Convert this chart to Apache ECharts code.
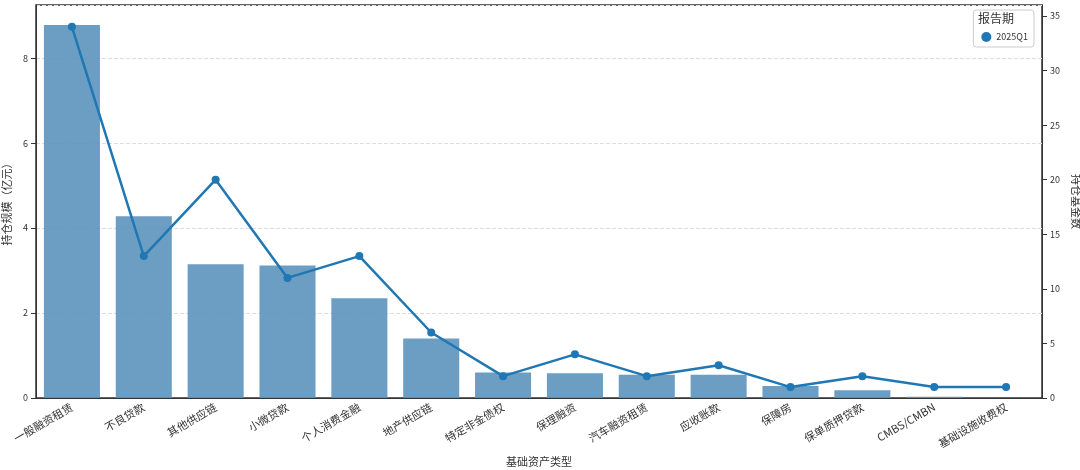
<!DOCTYPE html><html><head><meta charset="utf-8"><script src="https://cdn.jsdelivr.net/npm/echarts@6/dist/echarts.min.js"></script></head><body style="margin:0"><div id="c" style="width:1080px;height:470px"></div><script>
const categories=['一般融资租赁','不良贷款','其他供应链','小微贷款','个人消费金融','地产供应链','特定非金债权','保理融资','汽车融资租赁','应收账款','保障房','保单质押贷款','CMBS/CMBN','基础设施收费权'];
const scale=[8.78,4.28,3.15,3.12,2.35,1.4,0.6,0.58,0.55,0.55,0.28,0.18,0.03,0];
const fundCount=[34,13,20,11,13,6,2,4,2,3,1,2,1,1];
const f='"Noto Sans CJK SC",sans-serif';
const c=echarts.init(document.getElementById('c'));
c.setOption({textStyle:{fontFamily:f},
grid:{left:36,right:38,top:5,bottom:72,containLabel:false,outerBoundsMode:'none',show:true,borderColor:'#333',borderWidth:1.5},
legend:{right:46,top:10,z:5,data:[{name:'2025Q1',icon:'circle'}],itemWidth:10,itemHeight:10,textStyle:{fontSize:9,color:'#333'},
 backgroundColor:'#fff',borderColor:'#ccc',borderWidth:1,borderRadius:3,padding:[22,6,5,8]},
graphic:[{type:'text',right:66,top:12,z:100,zlevel:1,style:{text:'报告期',font:'12px '+f,fill:'#333'}}],
xAxis:{type:'category',data:categories,axisTick:{show:false},axisLine:{lineStyle:{color:'#333'}},
 axisLabel:{rotate:30,fontSize:11,color:'#333',margin:8},name:'基础资产类型',nameLocation:'middle',nameGap:58,nameTextStyle:{fontSize:11,color:'#333'}},
yAxis:[{type:'value',min:0,max:9.25,interval:2,axisLine:{show:true,lineStyle:{color:'#333'}},axisTick:{show:true},
 axisLabel:{fontSize:9,color:'#333',showMaxLabel:false},splitLine:{lineStyle:{type:'dashed',color:'#ddd'}},
 name:'持仓规模（亿元）',nameLocation:'middle',nameGap:22,nameTextStyle:{fontSize:11,color:'#333'}},
 {type:'value',min:0,max:36,interval:5,axisLine:{show:true,lineStyle:{color:'#333'}},axisTick:{show:true},
 axisLabel:{fontSize:9,color:'#333',showMaxLabel:false},splitLine:{show:false},
 name:'持仓基金数',nameLocation:'middle',nameGap:24,nameRotate:-90,nameTextStyle:{fontSize:11,color:'#333'}}],
series:[{type:'bar',data:scale,barWidth:'78%',itemStyle:{color:'#5b93bb',opacity:0.9},legendHoverLink:false},
 {type:'line',name:'2025Q1',yAxisIndex:1,data:fundCount,symbol:'circle',symbolSize:8,lineStyle:{width:2.5,color:'#1f77b4'},itemStyle:{color:'#1f77b4'}}]
});
</script></body></html>
